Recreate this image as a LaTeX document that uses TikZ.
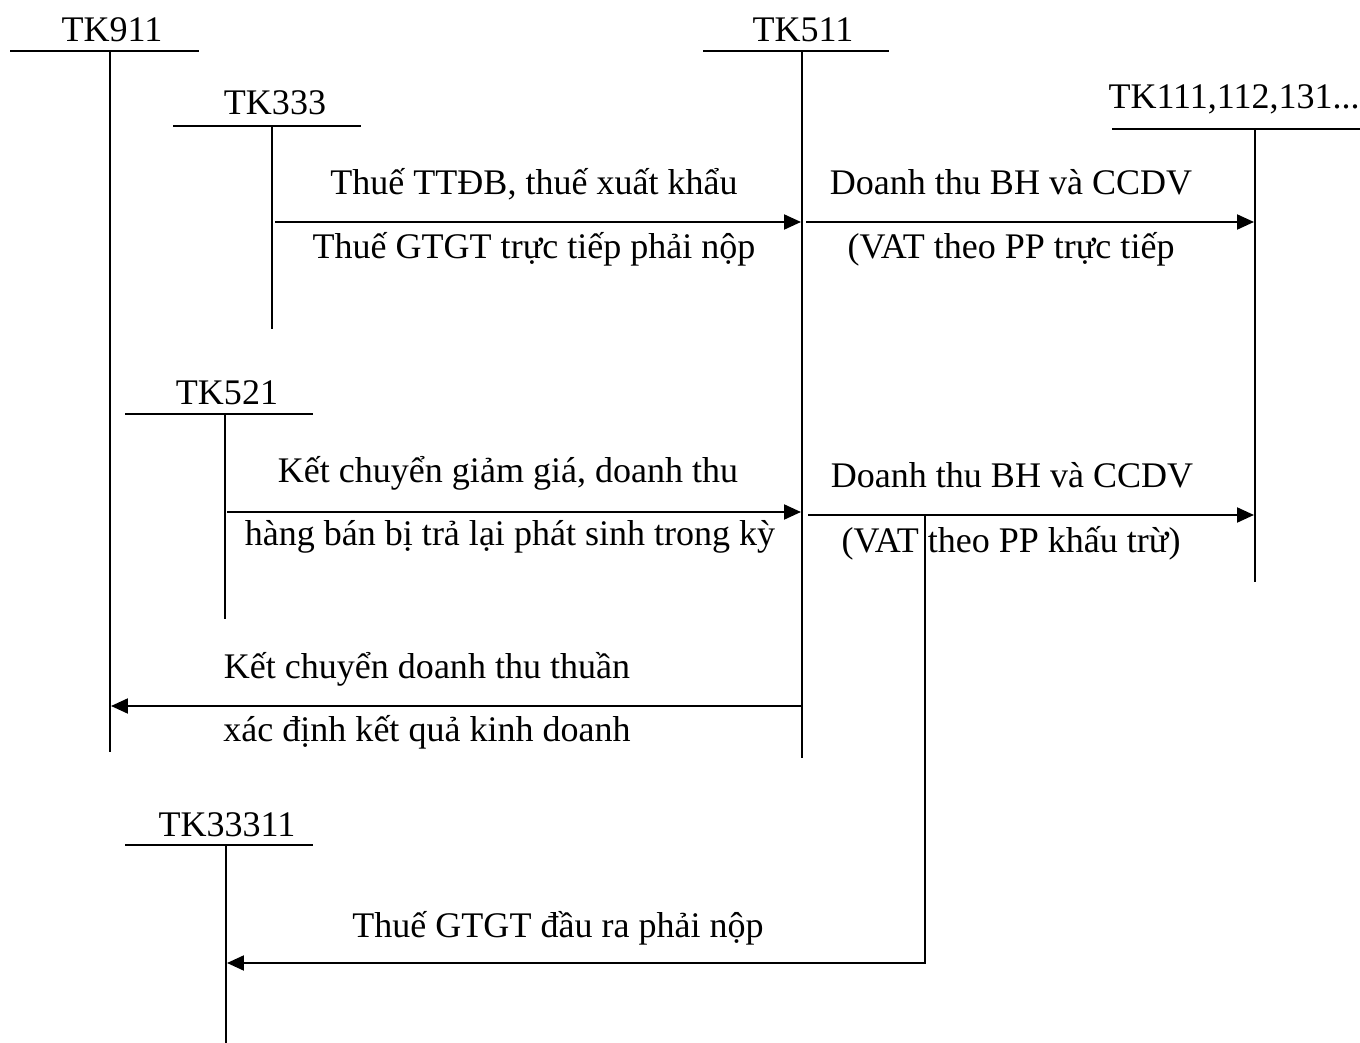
\documentclass[tikz,border=0pt]{standalone}
\usepackage{fontspec}
\setmainfont{Liberation Serif}
\usetikzlibrary{arrows.meta}
\begin{document}
\begin{tikzpicture}[x=0.02cm,y=-0.02cm,
  acct/.style={line width=1.6pt},
  vline/.style={line width=1pt},
  flow/.style={line width=1.2pt,-{Triangle[length=0.34cm,width=0.3cm]}},
  lbl/.style={font=\fontsize{20.5}{24}\selectfont, inner sep=0pt, anchor=base},
]
\useasboundingbox (0,0) rectangle (1360,1043);
% account titles
\node[lbl] (t911) at (112,42) {TK911};
\node[lbl] (t511) at (803,42) {TK511};
\node[lbl] (t333) at (275,115) {TK333};
\node[lbl,anchor=base east] (t111) at (1360,109) {TK111,112,131...};
\node[lbl] (t521) at (227,405) {TK521};
\node[lbl] (t3331) at (227,836) {TK33311};
% account T lines
\coordinate (c911L) at (10,51);   \coordinate (c911R) at (199,51);
\coordinate (c911T) at (110,51);  \coordinate (c911B) at (110,752);
\coordinate (c511L) at (703,51);  \coordinate (c511R) at (889,51);
\coordinate (c511T) at (802,51);  \coordinate (c511B) at (802,758);
\coordinate (c333L) at (173,126); \coordinate (c333R) at (361,126);
\coordinate (c333T) at (272,126); \coordinate (c333B) at (272,329);
\coordinate (c111L) at (1112,129); \coordinate (c111R) at (1360,129);
\coordinate (c111T) at (1255,129); \coordinate (c111B) at (1255,582);
\coordinate (c521L) at (125,414); \coordinate (c521R) at (313,414);
\coordinate (c521T) at (225,414); \coordinate (c521B) at (225,619);
\coordinate (c3331L) at (125,845); \coordinate (c3331R) at (313,845);
\coordinate (c3331T) at (226,845); \coordinate (c3331B) at (226,1043);
\foreach \a in {911,511,333,111,521,3331}{
  \draw[acct] (c\a L) -- (c\a R);
  \draw[vline] (c\a T) -- (c\a B);
}
% arrows
\coordinate (a1s) at (275,222);  \coordinate (a1e) at (801,222);
\coordinate (a2s) at (806,222);  \coordinate (a2e) at (1254,222);
\coordinate (a3s) at (227,512);  \coordinate (a3e) at (801,512);
\coordinate (a4s) at (808,515);  \coordinate (a4e) at (1254,515);
\coordinate (a5s) at (802,706);  \coordinate (a5e) at (111,706);
\coordinate (a6s) at (925,515);  \coordinate (a6k) at (925,963); \coordinate (a6e) at (227,963);
\draw[flow] (a1s) -- (a1e);
\draw[flow] (a2s) -- (a2e);
\draw[flow] (a3s) -- (a3e);
\draw[flow] (a4s) -- (a4e);
\draw[flow] (a5s) -- (a5e);
\draw[flow] (a6s) -- (a6k) -- (a6e);
% labels
\node[lbl] (l1a) at (534,195) {Thuế TTĐB, thuế xuất khẩu};
\node[lbl] (l1b) at (534,259) {Thuế GTGT trực tiếp phải nộp};
\node[lbl] (l2a) at (1011,195) {Doanh thu BH và CCDV};
\node[lbl] (l2b) at (1011,259) {(VAT theo PP trực tiếp};
\node[lbl] (l3a) at (508,483) {Kết chuyển giảm giá, doanh thu};
\node[lbl] (l3b) at (510,546) {hàng bán bị trả lại phát sinh trong kỳ};
\node[lbl] (l4a) at (1012,488) {Doanh thu BH và CCDV};
\node[lbl] (l4b) at (1011,553) {(VAT theo PP khấu trừ)};
\node[lbl] (l5a) at (427,679) {Kết chuyển doanh thu thuần};
\node[lbl] (l5b) at (427,742) {xác định kết quả kinh doanh};
\node[lbl] (l6) at (558,937) {Thuế GTGT đầu ra phải nộp};
\end{tikzpicture}
\end{document}
